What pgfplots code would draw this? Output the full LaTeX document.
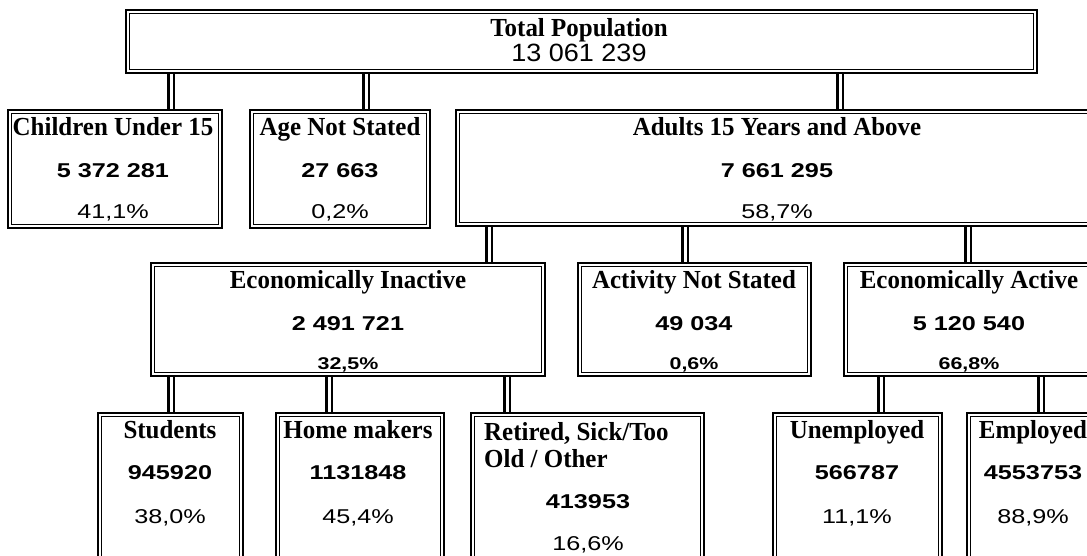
\documentclass[border=0pt]{standalone}
\usepackage{pgfplots}
\pgfplotsset{compat=1.18}
\usepackage{fontspec}
\setmainfont{Liberation Serif}
\newfontfamily\ttlfont[FakeStretch=0.96]{Liberation Serif}
\newfontfamily\numfont[FakeStretch=1.26]{Liberation Sans}
\newfontfamily\totfont[FakeStretch=1.08]{Liberation Sans}

% title, value and share fonts (sizes in px of the 1087x555 picture)
\newcommand\ttl{\fontsize{26}{27}\selectfont\ttlfont\bfseries}
\newcommand\val{\fontsize{20}{22}\selectfont\numfont\bfseries}
\newcommand\shr{\fontsize{20}{22}\selectfont\numfont}
\newcommand\shrb{\fontsize{17}{19}\selectfont\numfont\bfseries}
\newcommand\tot{\fontsize{25}{27}\selectfont\totfont}

% double-ruled box: outer corners x1 y1 x2 y2
\newcommand\dbox[4]{%
  \pgfmathsetmacro\xa{#1+3.6}\pgfmathsetmacro\ya{#2+3.6}%
  \pgfmathsetmacro\xb{#3-3.6}\pgfmathsetmacro\yb{#4-3.6}%
  \edef\tmp{\noexpand\addplot[line width=2.8pt,line cap=rect,line join=miter]
    coordinates {(#1,#2) (#3,#2) (#3,#4) (#1,#4) (#1,#2)};
    \noexpand\addplot[line width=0.9pt,line cap=rect]
    coordinates {(\xa,\ya) (\xb,\ya) (\xb,\yb) (\xa,\yb) (\xa,\ya)};}\tmp}
% double connector at x from y1 to y2
\newcommand\link[3]{%
  \pgfmathsetmacro\xa{#1-2.6}\pgfmathsetmacro\xb{#1+2.6}%
  \edef\tmp{\noexpand\addplot[line width=2.2pt] coordinates {(\xa,#2) (\xa,#3)};
    \noexpand\addplot[line width=2.2pt] coordinates {(\xb,#2) (\xb,#3)};}\tmp}

\begin{document}
\begin{tikzpicture}
\path[use as bounding box] (0,0) rectangle (1087pt,555pt);
\begin{axis}[
  x=1pt, y=1pt, xmin=0, xmax=1087, ymin=0, ymax=555,
  y dir=reverse, hide axis, clip=true, anchor=south west,
  every axis plot/.append style={black, mark=none},
  nodes={anchor=base, inner sep=0pt},
]
% connectors
\link{171}{73}{110}  \link{366}{73}{110}  \link{840}{73}{110}
\link{489}{226}{263} \link{685}{226}{263} \link{968}{226}{263}
\link{171}{376}{413} \link{329}{376}{413} \link{507}{376}{413}
\link{881}{376}{413} \link{1041}{376}{413}
% boxes
\dbox{126}{10}{1037}{73}
\dbox{8}{110}{222}{228}
\dbox{250}{110}{430}{228}
\dbox{456}{110}{1098}{226}
\dbox{151}{263}{545}{376}
\dbox{578}{263}{811}{376}
\dbox{844}{263}{1094}{376}
\dbox{98}{413}{243}{600}
\dbox{276}{413}{444}{600}
\dbox{471}{413}{704}{600}
\dbox{773}{413}{942}{600}
\dbox{967}{413}{1100}{600}
% level 1
\node[font=\ttl] at (axis cs:579,36) {Total Population};
\node[font=\tot] at (axis cs:579,61) {13 061 239};
% level 2
\node[font=\ttl] at (axis cs:113,135) {Children Under 15};
\node[font=\val] at (axis cs:113,177) {5 372 281};
\node[font=\shr] at (axis cs:113,218) {41,1\%};
\node[font=\ttl] at (axis cs:340,135) {Age Not Stated};
\node[font=\val] at (axis cs:340,177) {27 663};
\node[font=\shr] at (axis cs:340,218) {0,2\%};
\node[font=\ttl] at (axis cs:777,135) {Adults 15 Years and Above};
\node[font=\val] at (axis cs:777,177) {7 661 295};
\node[font=\shr] at (axis cs:777,218) {58,7\%};
% level 3
\node[font=\ttl] at (axis cs:348,288) {Economically Inactive};
\node[font=\val] at (axis cs:348,330) {2 491 721};
\node[font=\shrb] at (axis cs:348,369) {32,5\%};
\node[font=\ttl] at (axis cs:694,288) {Activity Not Stated};
\node[font=\val] at (axis cs:694,330) {49 034};
\node[font=\shrb] at (axis cs:694,369) {0,6\%};
\node[font=\ttl] at (axis cs:969,288) {Economically Active};
\node[font=\val] at (axis cs:969,330) {5 120 540};
\node[font=\shrb] at (axis cs:969,369) {66,8\%};
% level 4
\node[font=\ttl] at (axis cs:170,438) {Students};
\node[font=\val] at (axis cs:170,479) {945920};
\node[font=\shr] at (axis cs:170,523) {38,0\%};
\node[font=\ttl] at (axis cs:358,438) {Home makers};
\node[font=\val] at (axis cs:358,479) {1131848};
\node[font=\shr] at (axis cs:358,523) {45,4\%};
\node[font=\ttl,anchor=base west] at (axis cs:484,440) {Retired, Sick/Too};
\node[font=\ttl,anchor=base west] at (axis cs:484,467) {Old / Other};
\node[font=\val] at (axis cs:588,508) {413953};
\node[font=\shr] at (axis cs:588,550) {16,6\%};
\node[font=\ttl] at (axis cs:857,438) {Unemployed};
\node[font=\val] at (axis cs:857,479) {566787};
\node[font=\shr] at (axis cs:857,523) {11,1\%};
\node[font=\ttl] at (axis cs:1033,438) {Employed};
\node[font=\val] at (axis cs:1033,479) {4553753};
\node[font=\shr] at (axis cs:1033,523) {88,9\%};
\end{axis}
\end{tikzpicture}
\end{document}
